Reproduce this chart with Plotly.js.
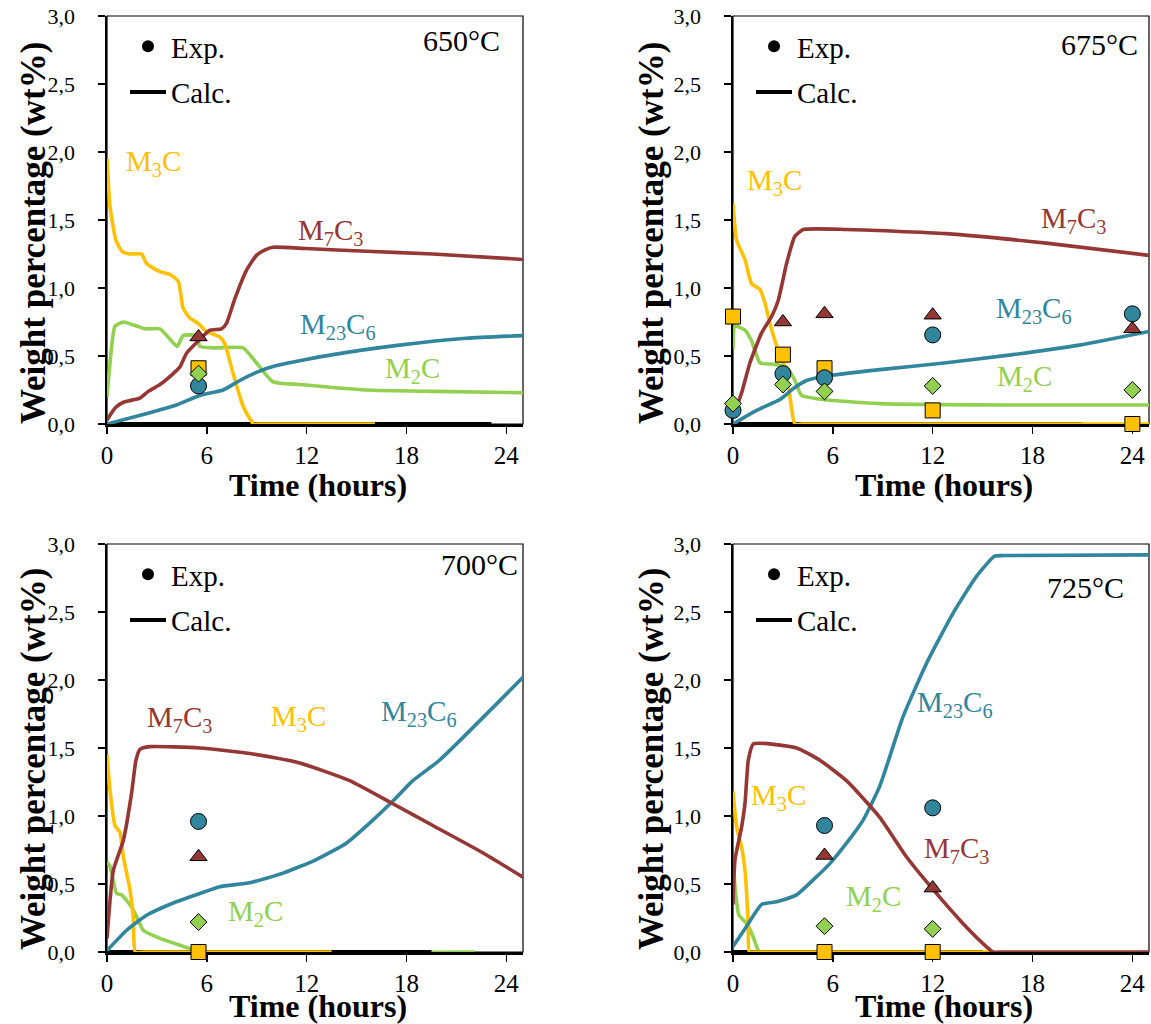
<!DOCTYPE html>
<html><head><meta charset="utf-8">
<script src="https://cdn.plot.ly/plotly-3.0.1.min.js"></script>
<style>html,body{margin:0;padding:0;background:#fff}#chart{width:1151px;height:1024px}</style>
</head><body><div id="chart"></div>
<script>
// ---------- 650 °C ----------
const t650_m3c = [0, 0.18, 0.54, 0.9, 1.38, 2.08, 2.38, 3.18, 3.78, 4.28, 4.58, 4.98, 5.48, 5.98, 6.78, 7.08, 7.58, 8.18, 8.68, 8.8, 9.3, 16.1];
const v650_m3c = [1.95, 1.6, 1.35, 1.27, 1.25, 1.25, 1.18, 1.12, 1.10, 1.05, 0.85, 0.78, 0.74, 0.68, 0.64, 0.59, 0.37, 0.13, 0.02, 0, 0, 0];
const t650_m7c3 = [0, 0.5, 0.98, 1.98, 2.48, 3.18, 3.88, 4.38, 4.78, 5.48, 6.18, 6.88, 7.18, 7.68, 8.38, 8.98, 9.5, 9.98, 11.98, 15.6, 19.58, 25];
const v650_m7c3 = [0.03, 0.12, 0.16, 0.19, 0.24, 0.29, 0.36, 0.42, 0.52, 0.61, 0.69, 0.70, 0.74, 0.92, 1.13, 1.24, 1.28, 1.30, 1.29, 1.27, 1.25, 1.21];
const t650_m23c6 = [0, 2.18, 4.18, 5.58, 6.98, 7.98, 8.98, 10.18, 13.58, 17.58, 21.58, 25];
const v650_m23c6 = [0, 0.07, 0.14, 0.21, 0.25, 0.32, 0.38, 0.43, 0.51, 0.58, 0.63, 0.65];
const t650_m2c = [0, 0.28, 0.48, 0.98, 1.78, 2.28, 3.18, 3.88, 4.22, 4.58, 5.38, 5.58, 6.38, 8.18, 8.98, 9.98, 11.58, 15.58, 19.58, 25];
const v650_m2c = [0.2, 0.57, 0.72, 0.75, 0.72, 0.70, 0.70, 0.61, 0.57, 0.65, 0.65, 0.57, 0.56, 0.56, 0.45, 0.31, 0.29, 0.25, 0.24, 0.23];
const t650_calc = [0, 23.1];
const v650_calc = [0, 0];
const e650_t = [5.5];
const e650_m3c = [0.41];
const e650_m7c3 = [0.64];
const e650_m23c6 = [0.28];
const e650_m2c = [0.37];

// ---------- 675 °C ----------
const t675_m3c = [0, 0.22, 0.72, 1.12, 1.62, 1.92, 2.22, 2.72, 3.12, 3.42, 3.72, 4.2, 25];
const v675_m3c = [1.62, 1.35, 1.21, 1.03, 0.99, 0.89, 0.74, 0.54, 0.42, 0.20, 0, 0, 0];
const t675_m7c3 = [0, 0.52, 1.02, 1.72, 2.32, 2.72, 3.22, 3.72, 4.22, 6.82, 12.82, 18.82, 25];
const v675_m7c3 = [0.05, 0.23, 0.45, 0.67, 0.79, 0.91, 1.18, 1.38, 1.43, 1.43, 1.40, 1.33, 1.24];
const t675_m23c6 = [0, 1.42, 2.82, 3.62, 4.42, 5.42, 8.82, 12.82, 16.82, 20.82, 25];
const v675_m23c6 = [0, 0.10, 0.18, 0.26, 0.32, 0.35, 0.40, 0.45, 0.51, 0.58, 0.68];
const t675_m2c = [0, 0.12, 0.72, 1.12, 1.62, 2.42, 3.22, 3.72, 4.12, 5.42, 8.82, 16.82, 25];
const v675_m2c = [0.55, 0.72, 0.69, 0.61, 0.45, 0.44, 0.42, 0.32, 0.21, 0.18, 0.15, 0.14, 0.14];
const t675_calc = [0, 21];
const v675_calc = [0, 0];
const e675_t = [0, 3, 5.5, 12, 24];
const e675_m3c = [0.79, 0.51, 0.41, 0.10, 0.0];
const e675_m7c3 = [null, 0.75, 0.81, 0.80, 0.70];
const e675_m23c6 = [0.10, 0.37, 0.34, 0.655, 0.81];
const e675_m2c = [0.15, 0.29, 0.24, 0.28, 0.25];

// ---------- 700 °C ----------
const t700_m3c = [0, 0.18, 0.48, 0.78, 0.98, 1.38, 1.58, 1.7, 2.2, 13.5];
const v700_m3c = [1.45, 1.19, 0.93, 0.88, 0.70, 0.46, 0.26, 0, 0, 0];
const t700_m7c3 = [0, 0.38, 0.98, 1.48, 1.74, 1.98, 2.58, 5.58, 8.58, 11.58, 14.58, 17.18, 19.58, 22.58, 25];
const v700_m7c3 = [0.1, 0.60, 0.82, 1.17, 1.41, 1.49, 1.51, 1.50, 1.46, 1.39, 1.26, 1.09, 0.93, 0.73, 0.55];
const t700_m23c6 = [0, 1.18, 2.38, 3.98, 5.58, 6.78, 8.58, 10.58, 12.58, 14.38, 15.98, 17.18, 18.38, 19.98, 25];
const v700_m23c6 = [0.01, 0.16, 0.27, 0.36, 0.43, 0.48, 0.51, 0.58, 0.68, 0.80, 0.97, 1.11, 1.26, 1.41, 2.02];
const t700_m2c = [0, 0.18, 0.58, 0.88, 1.48, 1.78, 2.18, 3.18, 4.38, 5.38, 6.0, 22.07];
const v700_m2c = [0.66, 0.63, 0.43, 0.42, 0.33, 0.26, 0.16, 0.10, 0.05, 0.01, 0, 0];
const t700_calc = [0, 19.5];
const v700_calc = [0, 0];
const e700_t = [5.5];
const e700_m3c = [0.0];
const e700_m7c3 = [0.70];
const e700_m23c6 = [0.96];
const e700_m2c = [0.22];

// ---------- 725 °C ----------
const t725_m3c = [0, 0.22, 0.52, 0.72, 0.82, 0.92, 0.98, 1.4, 15.5];
const v725_m3c = [1.18, 0.92, 0.77, 0.60, 0.43, 0.19, 0, 0, 0];
const t725_m7c3 = [0, 0.12, 0.52, 0.72, 0.92, 1.22, 3.82, 5.22, 6.82, 8.82, 10.42, 12.02, 13.82, 15.22, 15.62, 16.2, 25];
const v725_m7c3 = [0.35, 0.68, 0.92, 1.09, 1.41, 1.53, 1.50, 1.41, 1.26, 0.99, 0.70, 0.46, 0.21, 0.04, 0, 0, 0];
const t725_m23c6 = [0, 0.82, 1.72, 2.62, 3.82, 4.82, 5.82, 6.82, 7.82, 8.82, 10.22, 11.62, 13.22, 14.62, 15.72, 16.3, 25];
const v725_m23c6 = [0.04, 0.19, 0.35, 0.37, 0.42, 0.53, 0.65, 0.80, 0.97, 1.22, 1.73, 2.12, 2.49, 2.76, 2.91, 2.915, 2.92];
const t725_m2c = [0, 0.16, 0.36, 0.82, 1.12, 1.52, 1.6];
const v725_m2c = [0.68, 0.43, 0.27, 0.21, 0.14, 0.01, 0];
const t725_calc = [0, 15];
const v725_calc = [0, 0];
const e725_t = [5.5, 12];
const e725_m3c = [0.0, 0.0];
const e725_m7c3 = [0.71, 0.47];
const e725_m23c6 = [0.93, 1.06];
const e725_m2c = [0.19, 0.17];

const temps = ['650°C', '675°C', '700°C', '725°C'];
const phaseNames = ['M<sub>3</sub>C', 'M<sub>7</sub>C<sub>3</sub>', 'M<sub>23</sub>C<sub>6</sub>', 'M<sub>2</sub>C'];
const xTicks = [0, 6, 12, 18, 24];
const xTitle = 'Time (hours)';
const yTitle = 'Weight percentage (wt%)';

// ---------- styling / layout ----------
const FONT = 'Liberation Serif';
const COL = {m3c: '#FFC000', m7c3: '#953735', m23c6: '#31859C', m2c: '#92D050'};
const W = 1151, H = 1024;

const panels = [
  {id: '', xpx: [107, 523], ypx: [16, 424], xt: 485, yt: [33, 233],
   c: {m3c: [t650_m3c, v650_m3c], m7c3: [t650_m7c3, v650_m7c3], m23c6: [t650_m23c6, v650_m23c6], m2c: [t650_m2c, v650_m2c], calc: [t650_calc, v650_calc]},
   e: {t: e650_t, m3c: e650_m3c, m7c3: e650_m7c3, m23c6: e650_m23c6, m2c: e650_m2c},
   lab: {m3c: [2.82, 1.92], m7c3: [13.44, 1.41], m23c6: [13.86, 0.72], m2c: [18.36, 0.40], temp: [21.3, 2.82]}},
  {id: '2', xpx: [733, 1149], ypx: [16, 424], xt: 485, yt: [651, 233],
   c: {m3c: [t675_m3c, v675_m3c], m7c3: [t675_m7c3, v675_m7c3], m23c6: [t675_m23c6, v675_m23c6], m2c: [t675_m2c, v675_m2c], calc: [t675_calc, v675_calc]},
   e: {t: e675_t, m3c: e675_m3c, m7c3: e675_m7c3, m23c6: e675_m23c6, m2c: e675_m2c},
   lab: {m3c: [2.52, 1.78], m7c3: [20.46, 1.50], m23c6: [18.06, 0.84], m2c: [17.5, 0.34], temp: [22.0, 2.79]}},
  {id: '3', xpx: [107, 523], ypx: [544, 952], xt: 1006, yt: [33, 759],
   c: {m3c: [t700_m3c, v700_m3c], m7c3: [t700_m7c3, v700_m7c3], m23c6: [t700_m23c6, v700_m23c6], m2c: [t700_m2c, v700_m2c], calc: [t700_calc, v700_calc]},
   e: {t: e700_t, m3c: e700_m3c, m7c3: e700_m7c3, m23c6: e700_m23c6, m2c: e700_m2c},
   lab: {m3c: [11.52, 1.72], m7c3: [4.38, 1.71], m23c6: [18.72, 1.76], m2c: [8.94, 0.29], temp: [22.38, 2.85]}},
  {id: '4', xpx: [733, 1149], ypx: [544, 952], xt: 1006, yt: [651, 759],
   c: {m3c: [t725_m3c, v725_m3c], m7c3: [t725_m7c3, v725_m7c3], m23c6: [t725_m23c6, v725_m23c6], m2c: [t725_m2c, v725_m2c], calc: [t725_calc, v725_calc]},
   e: {t: e725_t, m3c: e725_m3c, m7c3: e725_m7c3, m23c6: e725_m23c6, m2c: e725_m2c},
   lab: {m3c: [2.76, 1.14], m7c3: [13.44, 0.75], m23c6: [13.32, 1.82], m2c: [8.46, 0.40], temp: [21.18, 2.68]}}
];

const data = [];
const layout = {
  width: W, height: H, margin: {l: 0, r: 0, t: 0, b: 0},
  paper_bgcolor: '#fff', plot_bgcolor: '#fff',
  separators: ', ', font: {family: FONT, color: '#000'},
  showlegend: true, annotations: [], shapes: []
};
const phases = ['m3c', 'm7c3', 'm23c6', 'm2c'];
const symbols = {m3c: 'square', m7c3: 'triangle-up', m23c6: 'circle', m2c: 'diamond'};
const msize = {m3c: 15, m7c3: 15, m23c6: 16, m2c: 13};
const lineShape = {shape: 'spline', smoothing: 0.5};

panels.forEach((p, i) => {
  const xa = 'x' + p.id, ya = 'y' + p.id;
  const legName = i === 0 ? 'legend' : 'legend' + (i + 1);
  const common = {xaxis: xa, yaxis: ya, cliponaxis: false, hoverinfo: 'skip'};
  const curve = (xy, col) => Object.assign({type: 'scatter', mode: 'lines', x: xy[0], y: xy[1],
    line: Object.assign({color: col, width: 3.6}, lineShape), showlegend: false}, common);
  // curves: order green, black, yellow, teal, red
  data.push(curve(p.c.m2c, COL.m2c));
  data.push(Object.assign({type: 'scatter', mode: 'lines', name: 'Calc.', x: p.c.calc[0], y: p.c.calc[1], line: {color: '#000', width: 4},
    showlegend: true, legend: legName, legendgroup: 'calc' + i, legendrank: 2}, common));
  data.push(curve(p.c.m3c, COL.m3c));
  data.push(curve(p.c.m23c6, COL.m23c6));
  data.push(curve(p.c.m7c3, COL.m7c3));
  // experimental markers
  phases.forEach(ph => {
    data.push(Object.assign({type: 'scatter', mode: 'markers', x: p.e.t, y: p.e[ph],
      marker: {symbol: symbols[ph], size: msize[ph], color: COL[ph], line: {color: '#000', width: 1}}, showlegend: false}, common));
  });
  // legend entry for Exp.
  data.push(Object.assign({type: 'scatter', mode: 'markers', name: 'Exp.', x: [null], y: [null],
    marker: {symbol: 'circle', size: 12, color: '#000'}, showlegend: true, legend: legName, legendgroup: 'exp' + i, legendrank: 1}, common));

  const xd = [p.xpx[0] / W, p.xpx[1] / W];
  const yd = [1 - p.ypx[1] / H, 1 - p.ypx[0] / H];
  layout['xaxis' + p.id] = {
    domain: xd, anchor: ya, range: [0, 25], tickvals: xTicks, ticks: 'outside', ticklen: 7, tickwidth: 1.5, tickcolor: '#000',
    showline: true, linewidth: 2.5, linecolor: '#000', showgrid: false, zeroline: false, layer: 'below traces',
    ticklabelstandoff: 0, tickfont: {family: FONT, size: 25, color: '#000'}
  };
  layout['yaxis' + p.id] = {
    domain: yd, anchor: xa, range: [0, 3], dtick: 0.5, tickformat: '.1f', ticks: 'outside', ticklen: 7, tickwidth: 1.5, tickcolor: '#000',
    showline: true, linewidth: 2.5, linecolor: '#000', showgrid: false, zeroline: false, layer: 'below traces',
    ticklabelstandoff: 18, tickfont: {family: FONT, size: 22, color: '#000'}
  };
  layout[legName] = {
    x: (p.xpx[0] + 18) / W, y: 1 - (p.ypx[0] + 5) / H, xanchor: 'left', yanchor: 'top',
    bgcolor: 'rgba(0,0,0,0)', borderwidth: 0, tracegroupgap: 5, itemwidth: 36,
    font: {family: FONT, size: 29, color: '#000'}
  };
  layout.shapes.push({type: 'rect', xref: xa + ' domain', yref: ya + ' domain', x0: 0, x1: 1, y0: 0, y1: 1,
    line: {color: '#000', width: 1.2}, layer: 'below'});
  phases.forEach((ph, k) => {
    layout.annotations.push({xref: xa, yref: ya, x: p.lab[ph][0], y: p.lab[ph][1], text: phaseNames[k], showarrow: false,
      font: {family: FONT, size: 29, color: COL[ph]}, xanchor: 'center', yanchor: 'middle'});
  });
  layout.annotations.push({xref: xa, yref: ya, x: p.lab.temp[0], y: p.lab.temp[1], text: temps[i], showarrow: false,
    font: {family: FONT, size: 30, color: '#000'}, xanchor: 'center', yanchor: 'middle'});
  // axis titles
  const cx = (p.xpx[0] + p.xpx[1]) / 2 + 3;
  layout.annotations.push({xref: 'paper', yref: 'paper', x: cx / W, y: 1 - p.xt / H, text: '<b>' + xTitle + '</b>',
    showarrow: false, xanchor: 'center', yanchor: 'middle', font: {family: FONT, size: 32, color: '#000'}});
  layout.annotations.push({xref: 'paper', yref: 'paper', x: p.yt[0] / W, y: 1 - p.yt[1] / H,
    text: '<b>' + yTitle + '</b>', textangle: -90,
    showarrow: false, xanchor: 'center', yanchor: 'middle', font: {family: FONT, size: 35, color: '#000'}});
});

Plotly.newPlot('chart', data, layout, {displayModeBar: false, staticPlot: true});
</script>
</body></html>
